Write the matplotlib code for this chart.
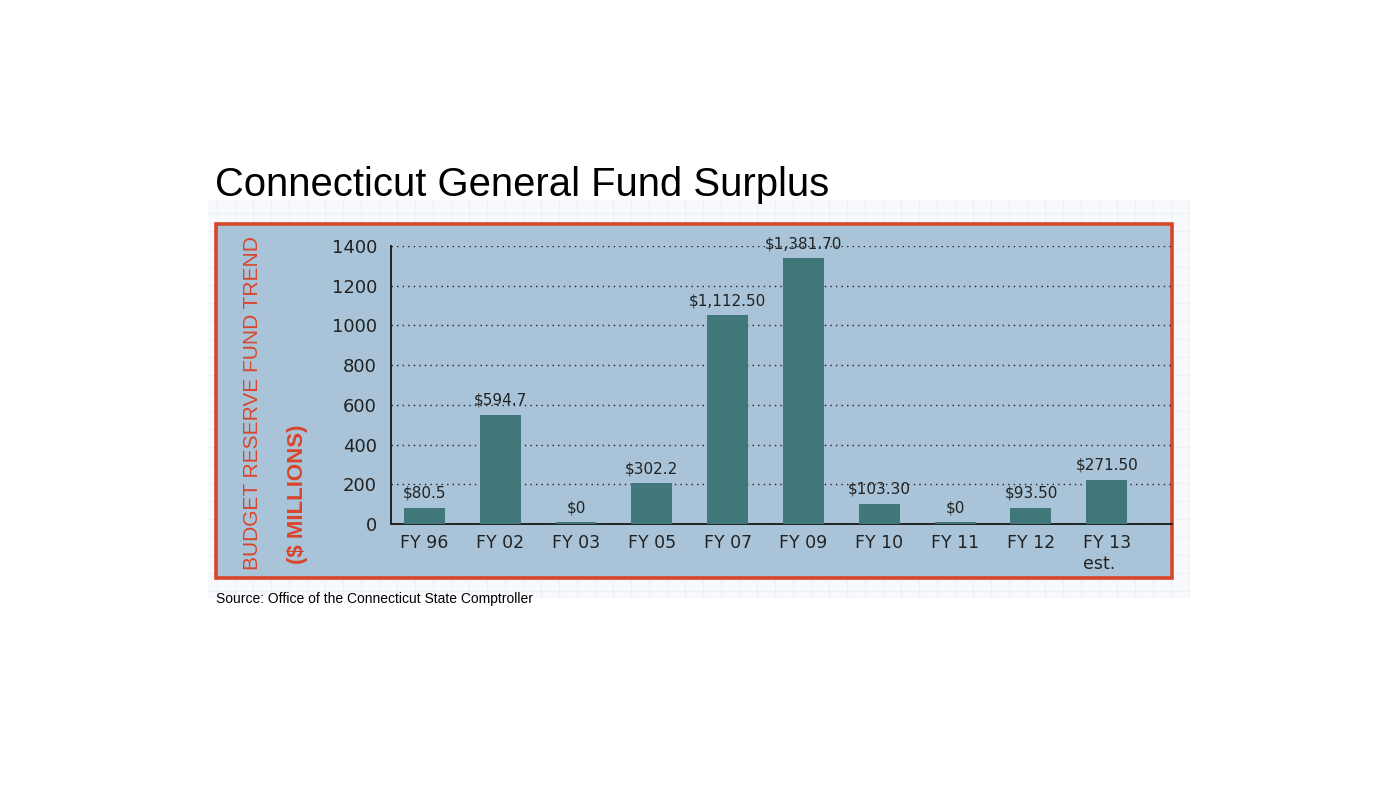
import matplotlib
matplotlib.use("Agg")
import matplotlib.pyplot as plt
from matplotlib.patches import Rectangle

# ---- data ----
categories = ["FY 96", "FY 02", "FY 03", "FY 05", "FY 07", "FY 09", "FY 10", "FY 11", "FY 12", "FY 13\nest."]
bar_heights = [82, 550, 8, 205, 1052, 1339, 101, 8, 81, 222]
value_labels = ["$80.5", "$594.7", "$0", "$302.2", "$1,112.50", "$1,381.70", "$103.30", "$0", "$93.50", "$271.50"]
y_ticks = [0, 200, 400, 600, 800, 1000, 1200, 1400]

W, H = 1400, 800
fig = plt.figure(figsize=(14, 8), dpi=100)
fig.patch.set_facecolor("white")

def fx(px):
    return px / W

def fy(py):
    return 1 - py / H

# faint graph-paper background
bg = fig.add_axes([fx(208), fy(598), fx(1190 - 208), (598 - 200) / H])
bg.set_facecolor("#f7f9fc")
bg.set_xlim(0, 982)
bg.set_ylim(0, 398)
for gx in range(9, 982, 18):
    bg.axvline(gx, color="#ecf1f6", lw=0.9, zorder=0)
for gy in range(7, 398, 18):
    bg.axhline(gy, color="#ecf1f6", lw=0.9, zorder=0)
bg.set_xticks([]); bg.set_yticks([])
for s in bg.spines.values():
    s.set_visible(False)

# blue panel with red border
panel = Rectangle((fx(215.5), fy(577.5)), (1171.5 - 215.5) / W, (577.5 - 223.5) / H,
                  transform=fig.transFigure, facecolor="#a9c4d8", edgecolor="#d8452b",
                  lw=2.6, zorder=1)
fig.patches.append(panel)

# main axes
ax = fig.add_axes([fx(391), fy(524), fx(1172 - 391), (524 - 246) / H])
ax.set_facecolor("none")
ax.set_zorder(3)
x = list(range(len(categories)))
bars = ax.bar(x, bar_heights, width=0.54, color="#40777a", zorder=3)
ax.set_xlim(-0.44, 9.86)
ax.set_ylim(0, 1400)
ax.set_yticks(y_ticks)
ax.set_yticklabels([str(v) for v in y_ticks], fontsize=13, color="#222222", family="DejaVu Sans")
ax.set_xticks(x)
ax.set_xticklabels(categories, fontsize=12.5, color="#222222", family="DejaVu Sans")
for lbl in ax.get_xticklabels():
    lbl.set_multialignment("left")
ax.tick_params(axis="both", length=0)
ax.tick_params(axis="y", pad=10)
ax.tick_params(axis="x", pad=7)
ax.yaxis.grid(True, linestyle=(0, (1, 3)), color="#222222", lw=1.0, zorder=2)
ax.set_axisbelow(True)
for side in ["top", "right"]:
    ax.spines[side].set_visible(False)
ax.spines["left"].set_color("#222222")
ax.spines["bottom"].set_color("#222222")
ax.spines["left"].set_linewidth(1.4)
ax.spines["bottom"].set_linewidth(1.4)

for xi, h, lab in zip(x, bar_heights, value_labels):
    ax.annotate(lab, (xi, h), xytext=(0, 5), textcoords="offset points",
                ha="center", va="bottom", fontsize=11, color="#222222",
                family="DejaVu Sans", zorder=4)

# rotated axis titles
fig.text(fx(252), fy(403.5), "BUDGET RESERVE FUND TREND", rotation=90,
         ha="center", va="center", fontsize=15, color="#d8452b",
         family="Liberation Sans")
fig.text(fx(297), fy(494.5), "($ MILLIONS)", rotation=90,
         ha="center", va="center", fontsize=16, color="#d8452b", fontweight="bold",
         family="Liberation Sans")

# title and source
fig.text(fx(215), fy(196), "Connecticut General Fund Surplus", ha="left", va="baseline",
         fontsize=28.8, color="black", family="Liberation Sans")
fig.text(fx(216), fy(603), "Source: Office of the Connecticut State Comptroller", ha="left",
         va="baseline", fontsize=10, color="black", family="Liberation Sans")

fig.savefig("out.png", dpi=100)
